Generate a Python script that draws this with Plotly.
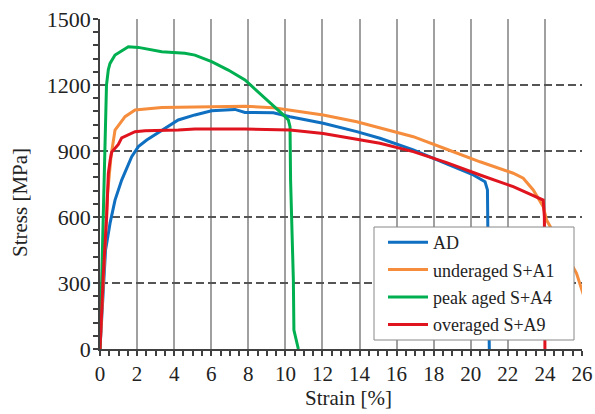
import plotly.graph_objects as go

# ---- data ----
ad_strain = [0, 0.15, 0.3, 0.4, 0.54, 0.81, 1.17, 1.71, 2.07, 2.52, 3.33, 4.22, 5.12, 6.02, 7.28, 7.82,
             9.35, 10.25, 12.04, 13.85, 15.1, 16.9, 18.7, 20.14, 20.77, 20.9, 20.95, 21.0]
ad_stress = [0, 230, 450, 500, 571, 677, 768, 874, 920, 950, 995, 1041, 1064, 1083, 1089, 1075,
             1074, 1056, 1026, 988, 958, 905, 841, 791, 760, 723, 300, 0]

ua_strain = [0, 0.2, 0.4, 0.6, 0.81, 1.35, 1.89, 3.33, 5.12, 7.82, 9.35, 10.25, 12.04, 13.85, 15.1,
             16.9, 18.7, 20.5, 22.29, 22.83, 23.37, 23.91, 24.09, 25.7, 26.1]
ua_stress = [0, 380, 700, 880, 995, 1056, 1086, 1098, 1101, 1103, 1097, 1086, 1064, 1033, 1005,
             965, 908, 851, 799, 776, 723, 647, 586, 345, 240]

pa_strain = [0, 0.15, 0.25, 0.35, 0.45, 0.54, 0.81, 1.53, 2.07, 3.33, 4.58, 5.12, 6.02, 6.92, 7.82,
             8.63, 9.35, 9.89, 10.16, 10.25, 10.28, 10.34, 10.43, 10.46, 10.7]
pa_stress = [0, 500, 950, 1200, 1270, 1298, 1336, 1374, 1371, 1351, 1344, 1336, 1306, 1268, 1223,
             1162, 1109, 1064, 1041, 1010, 768, 618, 314, 86, 0]

oa_strain = [0, 0.18, 0.36, 0.45, 0.55, 0.63, 0.99, 1.17, 1.89, 2.43, 4.22, 5.12, 7.82, 10.25, 12.04,
             13.85, 15.1, 16.9, 18.7, 20.5, 22.29, 23.91, 23.97, 24.0]
oa_stress = [0, 344, 601, 798, 860, 895, 930, 960, 988, 992, 995, 1000, 1000, 995, 980,
             954, 935, 897, 847, 791, 738, 677, 600, 0]

names = ["AD", "underaged S+A1", "peak aged S+A4", "overaged S+A9"]
colors = ["#0F6FC0", "#F58D3D", "#00B050", "#E0141E"]

x_ticks = list(range(0, 27, 2))
y_ticks = list(range(0, 1501, 300))

FONT = "'Liberation Serif', 'Times New Roman', 'DejaVu Serif', serif"

fig = go.Figure()
for nm, xs, ys, c in zip(names, [ad_strain, ua_strain, pa_strain, oa_strain],
                         [ad_stress, ua_stress, pa_stress, oa_stress], colors):
    fig.add_trace(go.Scatter(x=xs, y=ys, mode="lines", name=nm, legendgroup=nm,
                             line=dict(color=c, width=3)))

plot_w = 595 - 100 - 13
plot_h = 414 - 19 - 65

def px(xp):
    return (xp - 100) / plot_w

def py(yp):
    return (349 - yp) / plot_h

fig.update_layout(
    width=595, height=414,
    margin=dict(l=100, r=13, t=19, b=65, autoexpand=False),
    paper_bgcolor="white", plot_bgcolor="white",
    font=dict(family=FONT, size=20, color="#222"),
    showlegend=True,
    legend=dict(x=px(383), y=py(224), xanchor="left", yanchor="top",
                bgcolor="rgba(0,0,0,0)", borderwidth=0,
                font=dict(family=FONT, size=18, color="#222"),
                tracegroupgap=1, itemwidth=40),
    xaxis=dict(range=[0, 26], tickvals=x_ticks, ticktext=[str(v) for v in x_ticks],
               automargin=False,
               showgrid=True, gridcolor="#a0a0a0", gridwidth=1.5,
               showline=True, linecolor="#404040", linewidth=1.5,
               ticks="outside", ticklen=5, tickwidth=1.5, tickcolor="#404040",
               minor=dict(dtick=0.5, ticks="outside", ticklen=5, tickwidth=1.5,
                          tickcolor="#404040", showgrid=False),
               zeroline=False, ticklabelstandoff=0,
               tickfont=dict(family=FONT, size=21, color="#222")),
    yaxis=dict(range=[0, 1500], tickvals=y_ticks, ticktext=[str(v) for v in y_ticks],
               automargin=False,
               showgrid=True, gridcolor="#555", gridwidth=1.5, griddash="8px,4px",
               showline=True, linecolor="#404040", linewidth=1.5,
               ticks="outside", ticklen=5, tickwidth=1.5, tickcolor="#404040",
               minor=dict(dtick=60, ticks="outside", ticklen=5, tickwidth=1.5,
                          tickcolor="#404040", showgrid=False),
               zeroline=False, ticklabelstandoff=-2,
               tickfont=dict(family=FONT, size=22, color="#222")),
    shapes=[
        dict(type="rect", xref="paper", yref="paper",
             x0=px(374), x1=px(574), y0=py(340), y1=py(227),
             fillcolor="white", line=dict(color="#888", width=1), layer="above"),
    ],
    annotations=[
        dict(text="Strain [%]", x=px(348), y=py(398),
             xref="paper", yref="paper",
             xanchor="center", yanchor="middle", showarrow=False,
             font=dict(family=FONT, size=21, color="#222")),
        dict(text="Stress [MPa]", x=px(20), y=py(203),
             xref="paper", yref="paper",
             xanchor="center", yanchor="middle", showarrow=False, textangle=-90,
             font=dict(family=FONT, size=21, color="#222")),
    ],
)

fig.write_html("out.html")
